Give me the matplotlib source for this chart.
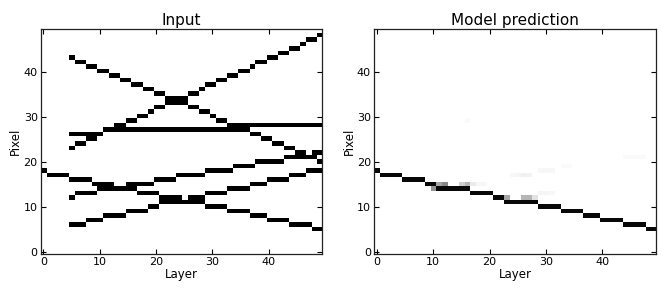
import numpy as np
import matplotlib
matplotlib.use("Agg")
import matplotlib.pyplot as plt

n_layers = 50
n_pixels = 50

# Track pixel per layer (None = no hit on that layer)
track_a = [18, 17, 17, 17, 17, 16, 16, 16, 16, 15, 15, 15, 15, 14, 14, 14, 14, 13, 13, 13,
           13, 12, 12, 12, 12, 11, 11, 11, 11, 10, 10, 10, 10, 9, 9, 9, 9, 8, 8, 8,
           7, 7, 7, 7, 6, 6, 6, 6, 5, 5]
track_b = [None] * 5 + [43, 42, 42, 41, 41, 40, 40, 39, 39, 38, 38, 37, 37, 36, 36, 35, 35, 34, 34, 33,
                        33, 32, 32, 31, 31, 30, 29, 29, 28, 28, 27, 27, 26, 26, 25, 25, 24, 24, 23, 23,
                        22, 22, 21, 21, 20]
track_c = [None] * 5 + [23, 24, 24, 25, 25, 26, 27, 27, 28, 28, 29, 29, 30, 30, 31, 32, 32, 33, 33, 34,
                        34, 35, 35, 36, 37, 37, 38, 38, 39, 39, 40, 40, 41, 42, 42, 43, 43, 44, 44, 45,
                        45, 46, 47, 47, 48]
track_d = [None] * 5 + [26, 26, 26, 26, 26, 26, 27, 27, 27, 27, 27, 27, 27, 27, 27, 27, 27, 27, 27, 27,
                        27, 27, 27, 27, 27, 27, 27, 27, 27, 27, 28, 28, 28, 28, 28, 28, 28, 28, 28, 28,
                        28, 28, 28, 28, 28]
track_e = [None] * 5 + [12, 13, 13, 13, 13, 14, 14, 14, 14, 14, 15, 15, 15, 15, 15, 16, 16, 16, 16, 17,
                        17, 17, 17, 17, 18, 18, 18, 18, 18, 19, 19, 19, 19, 20, 20, 20, 20, 20, 21, 21,
                        21, 21, 21, 22, 22]
track_g = [None] * 5 + [6, 6, 6, 7, 7, 7, 8, 8, 8, 8, 9, 9, 9, 9, 10, 10, 11, 11, 11, 11,
                        11, 12, 12, 12, 13, 13, 13, 13, 14, 14, 14, 14, 15, 15, 15, 16, 16, 16, 16, 17,
                        17, 17, 18, 18, 18]

# Model prediction: main track and faint (layer, pixel, intensity) ghosts
pred_track = [18, 17, 17, 17, 17, 16, 16, 16, 16, 15, 15, 14, 14, 14, 14, 14, 14, 13, 13, 13,
              13, 12, 12, 11, 11, 11, 11, 11, 11, 10, 10, 10, 10, 9, 9, 9, 9, 8, 8, 8,
              7, 7, 7, 7, 6, 6, 6, 6, 5, 5]
pred_ghost_layer = [10, 11, 12, 15, 16, 17, 18, 19, 23, 26, 27, 28, 24, 25, 26, 27,
                    29, 30, 31, 29, 30, 31, 33, 34, 44, 45, 46, 47, 16]
pred_ghost_pixel = [14, 15, 15, 15, 15, 15, 15, 15, 12, 12, 12, 12, 17, 17, 17, 17,
                    18, 18, 18, 13, 13, 13, 19, 19, 21, 21, 21, 21, 29]
pred_ghost_value = [0.5, 0.45, 0.55, 0.3, 0.4, 0.15, 0.07, 0.07, 0.45, 0.4, 0.4, 0.2, 0.06, 0.08, 0.12, 0.1,
                    0.06, 0.06, 0.06, 0.08, 0.08, 0.06, 0.04, 0.04, 0.04, 0.04, 0.04, 0.04, 0.04]

input_img = np.zeros((n_pixels, n_layers))
for trk in [track_a, track_b, track_c, track_d, track_e, track_g]:
    for layer, pix in enumerate(trk):
        if pix is not None:
            input_img[pix, layer] = 1.0

pred_img = np.zeros((n_pixels, n_layers))
for layer, pix, val in zip(pred_ghost_layer, pred_ghost_pixel, pred_ghost_value):
    pred_img[pix, layer] = val
for layer, pix in enumerate(pred_track):
    pred_img[pix, layer] = 0.97

plt.rcParams.update({
    "font.family": "DejaVu Sans",
    "xtick.direction": "in",
    "ytick.direction": "in",
    "xtick.top": True,
    "ytick.right": True,
    "xtick.major.size": 3.5,
    "ytick.major.size": 3.5,
    "axes.linewidth": 0.9,
    "axes.edgecolor": "#222222",
})

fig = plt.figure(figsize=(6.62, 2.90), dpi=100)
ax1 = fig.add_axes([0.0612, 0.123, 0.4255, 0.778])
ax2 = fig.add_axes([0.5647, 0.123, 0.4263, 0.778])

for ax, img, title in [(ax1, input_img, "Input"), (ax2, pred_img, "Model prediction")]:
    ax.imshow(img, cmap="Greys", vmin=0, vmax=1, origin="lower", aspect="auto",
              interpolation="nearest")
    ax.set_xticks([0, 10, 20, 30, 40])
    ax.set_yticks([0, 10, 20, 30, 40])
    ax.tick_params(labelsize=8, pad=2)
    ax.set_title(title, fontsize=11, pad=3)
    ax.set_xlabel("Layer", fontsize=8.5, labelpad=1)
    ax.set_ylabel("Pixel", fontsize=8.5, labelpad=1)

fig.savefig("out.png", dpi=100)
